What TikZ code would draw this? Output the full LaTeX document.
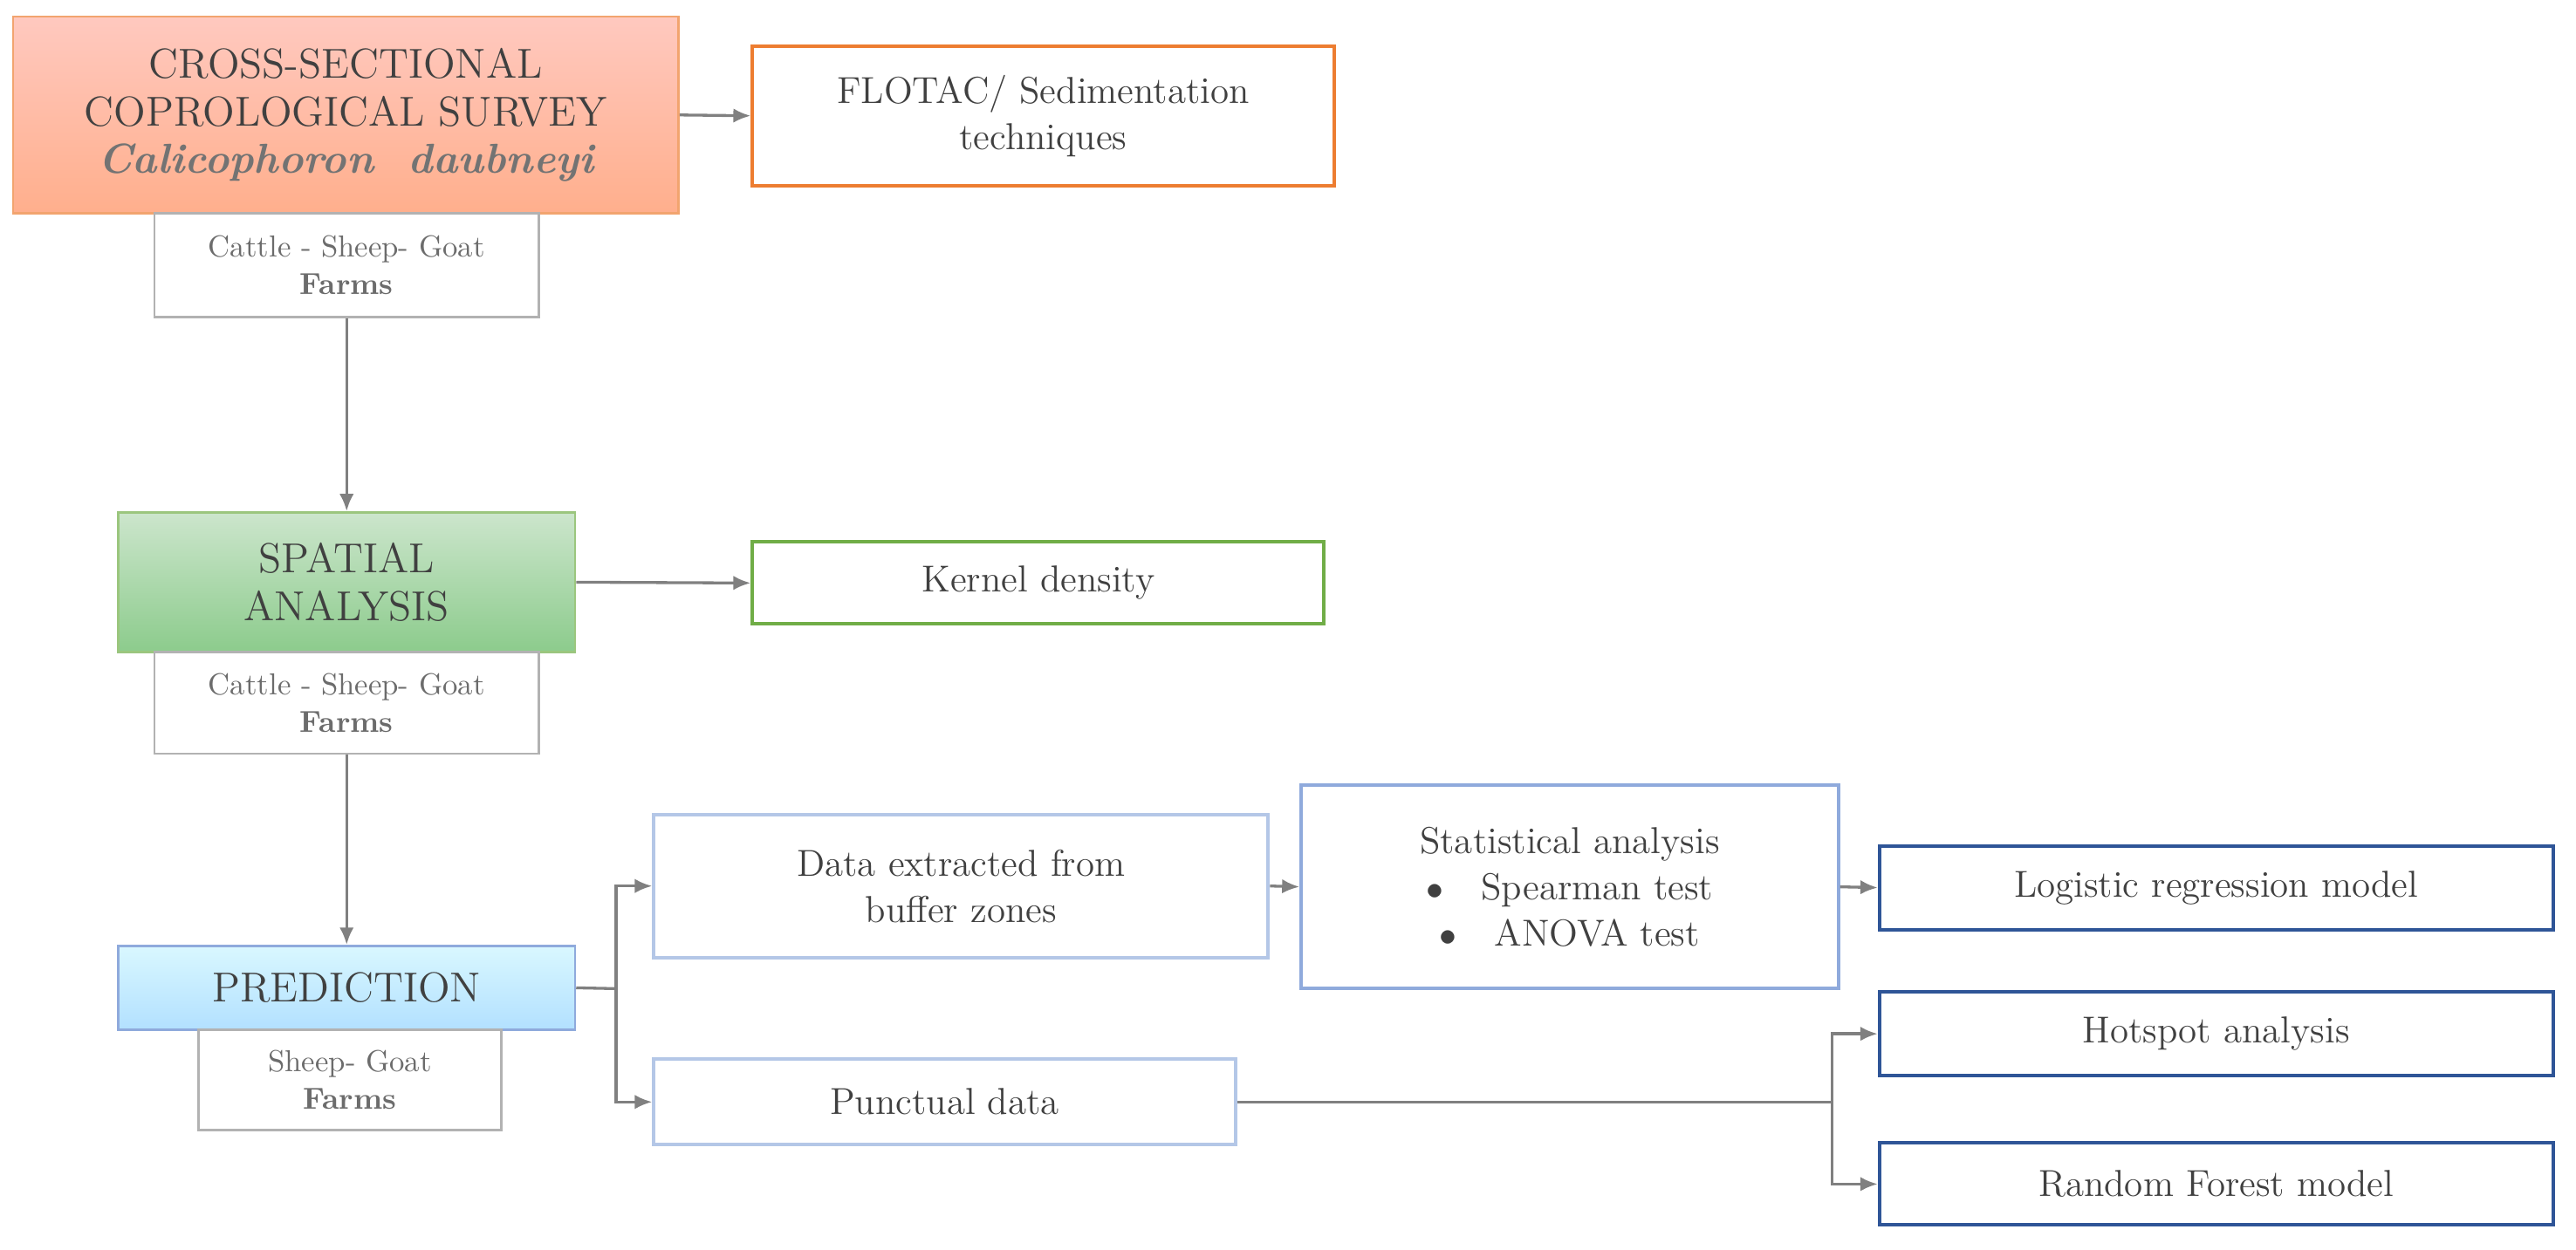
\documentclass[tikz,border=0pt]{standalone}
\usepackage{tikz}
\usetikzlibrary{positioning,arrows.meta}
\definecolor{orline}{HTML}{ED7D31}
\definecolor{grline}{HTML}{70AD47}
\definecolor{lbline}{HTML}{B4C7E7}
\definecolor{mbline}{HTML}{8FAADC}
\definecolor{dbline}{HTML}{2F5597}
\definecolor{txt}{HTML}{404040}
\tikzset{every picture/.style={line width=0.8pt}}
\tikzset{
  box/.style={draw, rectangle, align=center, inner sep=2pt, text=txt, font=\fontsize{13}{16}\selectfont},
  head/.style={box, font=\fontsize{14.5}{16.5}\selectfont},
  farm/.style={draw=gray!60, rectangle, align=center, fill=white, text=gray!85!black, font=\fontsize{10.5}{13}\selectfont},
  arr/.style={-{Latex[length=6pt,width=5pt]}, gray, line width=1pt},
  ln/.style={gray, line width=1pt}
}
\begin{document}
\begin{tikzpicture}[x=0.02cm, y=-0.02cm]
\useasboundingbox (0,0) rectangle (1568,761);
    % Main steps
\node[head, draw=orline!70, top color=orange!30!red!25, bottom color=orange!60!red!45, minimum width=405*0.02cm, minimum height=120*0.02cm] (survey) at (210.5,70) {CROSS-SECTIONAL\\COPROLOGICAL SURVEY\\{\color{gray!90!black}\bfseries\itshape Calicophoron\ \ daubneyi}};
\node[farm, minimum width=234*0.02cm, minimum height=63*0.02cm] (farms1) at (211,161.5) {Cattle - Sheep- Goat\\\textbf{Farms}};
\node[head, draw=grline!70, top color=green!50!black!20, bottom color=green!55!black!45, minimum width=278*0.02cm, minimum height=85*0.02cm] (spatial) at (211,354.5) {SPATIAL\\ANALYSIS};
\node[farm, minimum width=234*0.02cm, minimum height=62*0.02cm] (farms2) at (211,428) {Cattle - Sheep- Goat\\\textbf{Farms}};
\node[head, draw=mbline, top color=blue!20!cyan!15, bottom color=blue!40!cyan!30, minimum width=278*0.02cm, minimum height=51*0.02cm] (prediction) at (211,601.5) {PREDICTION};
\node[farm, minimum width=184*0.02cm, minimum height=61*0.02cm] (farms3) at (213,657.5) {Sheep- Goat\\\textbf{Farms}};
    % Methods
\node[box, draw=orline, line width=1.2pt, minimum width=354*0.02cm, minimum height=85*0.02cm] (flotac) at (635,70.5) {FLOTAC/ Sedimentation\\techniques};
\node[box, draw=grline, line width=1.2pt, minimum width=348*0.02cm, minimum height=50*0.02cm] (kernel) at (632,355) {Kernel density};
\node[box, draw=lbline, line width=1.2pt, minimum width=374*0.02cm, minimum height=87*0.02cm] (data) at (585,539.5) {Data extracted from\\buffer zones};
\node[box, draw=lbline, line width=1.2pt, minimum width=354*0.02cm, minimum height=52*0.02cm] (punctual) at (575,671) {Punctual data};
\node[box, draw=mbline, line width=1.2pt, minimum width=327*0.02cm, minimum height=124*0.02cm] (stat) at (955.5,540) {Statistical analysis\\$\bullet$\quad Spearman test\\$\bullet$\quad ANOVA test};
\node[box, draw=dbline, line width=1.2pt, minimum width=410*0.02cm, minimum height=51*0.02cm] (logistic) at (1349,540.5) {Logistic regression model};
\node[box, draw=dbline, line width=1.2pt, minimum width=410*0.02cm, minimum height=51*0.02cm] (hotspot) at (1349,629.5) {Hotspot analysis};
\node[box, draw=dbline, line width=1.2pt, minimum width=410*0.02cm, minimum height=50*0.02cm] (random) at (1349,721) {Random Forest model};
\coordinate (split1) at (375,602);
\coordinate (split2) at (1115,671);
    % Connections
\draw[arr] (survey.east) -- (flotac.west);
\draw[arr] (farms1) -- (spatial);
\draw[arr] (spatial.east) -- (kernel.west);
\draw[arr] (farms2) -- (prediction);
\draw[ln] (prediction.east) -- (split1);
\draw[arr] (split1) |- (data.west);
\draw[arr] (split1) |- (punctual.west);
\draw[arr] (data.east) -- (stat.west);
\draw[arr] (stat.east) -- (logistic.west);
\draw[ln] (punctual.east) -- (split2);
\draw[arr] (split2) |- (hotspot.west);
\draw[arr] (split2) |- (random.west);
\end{tikzpicture}
\end{document}
